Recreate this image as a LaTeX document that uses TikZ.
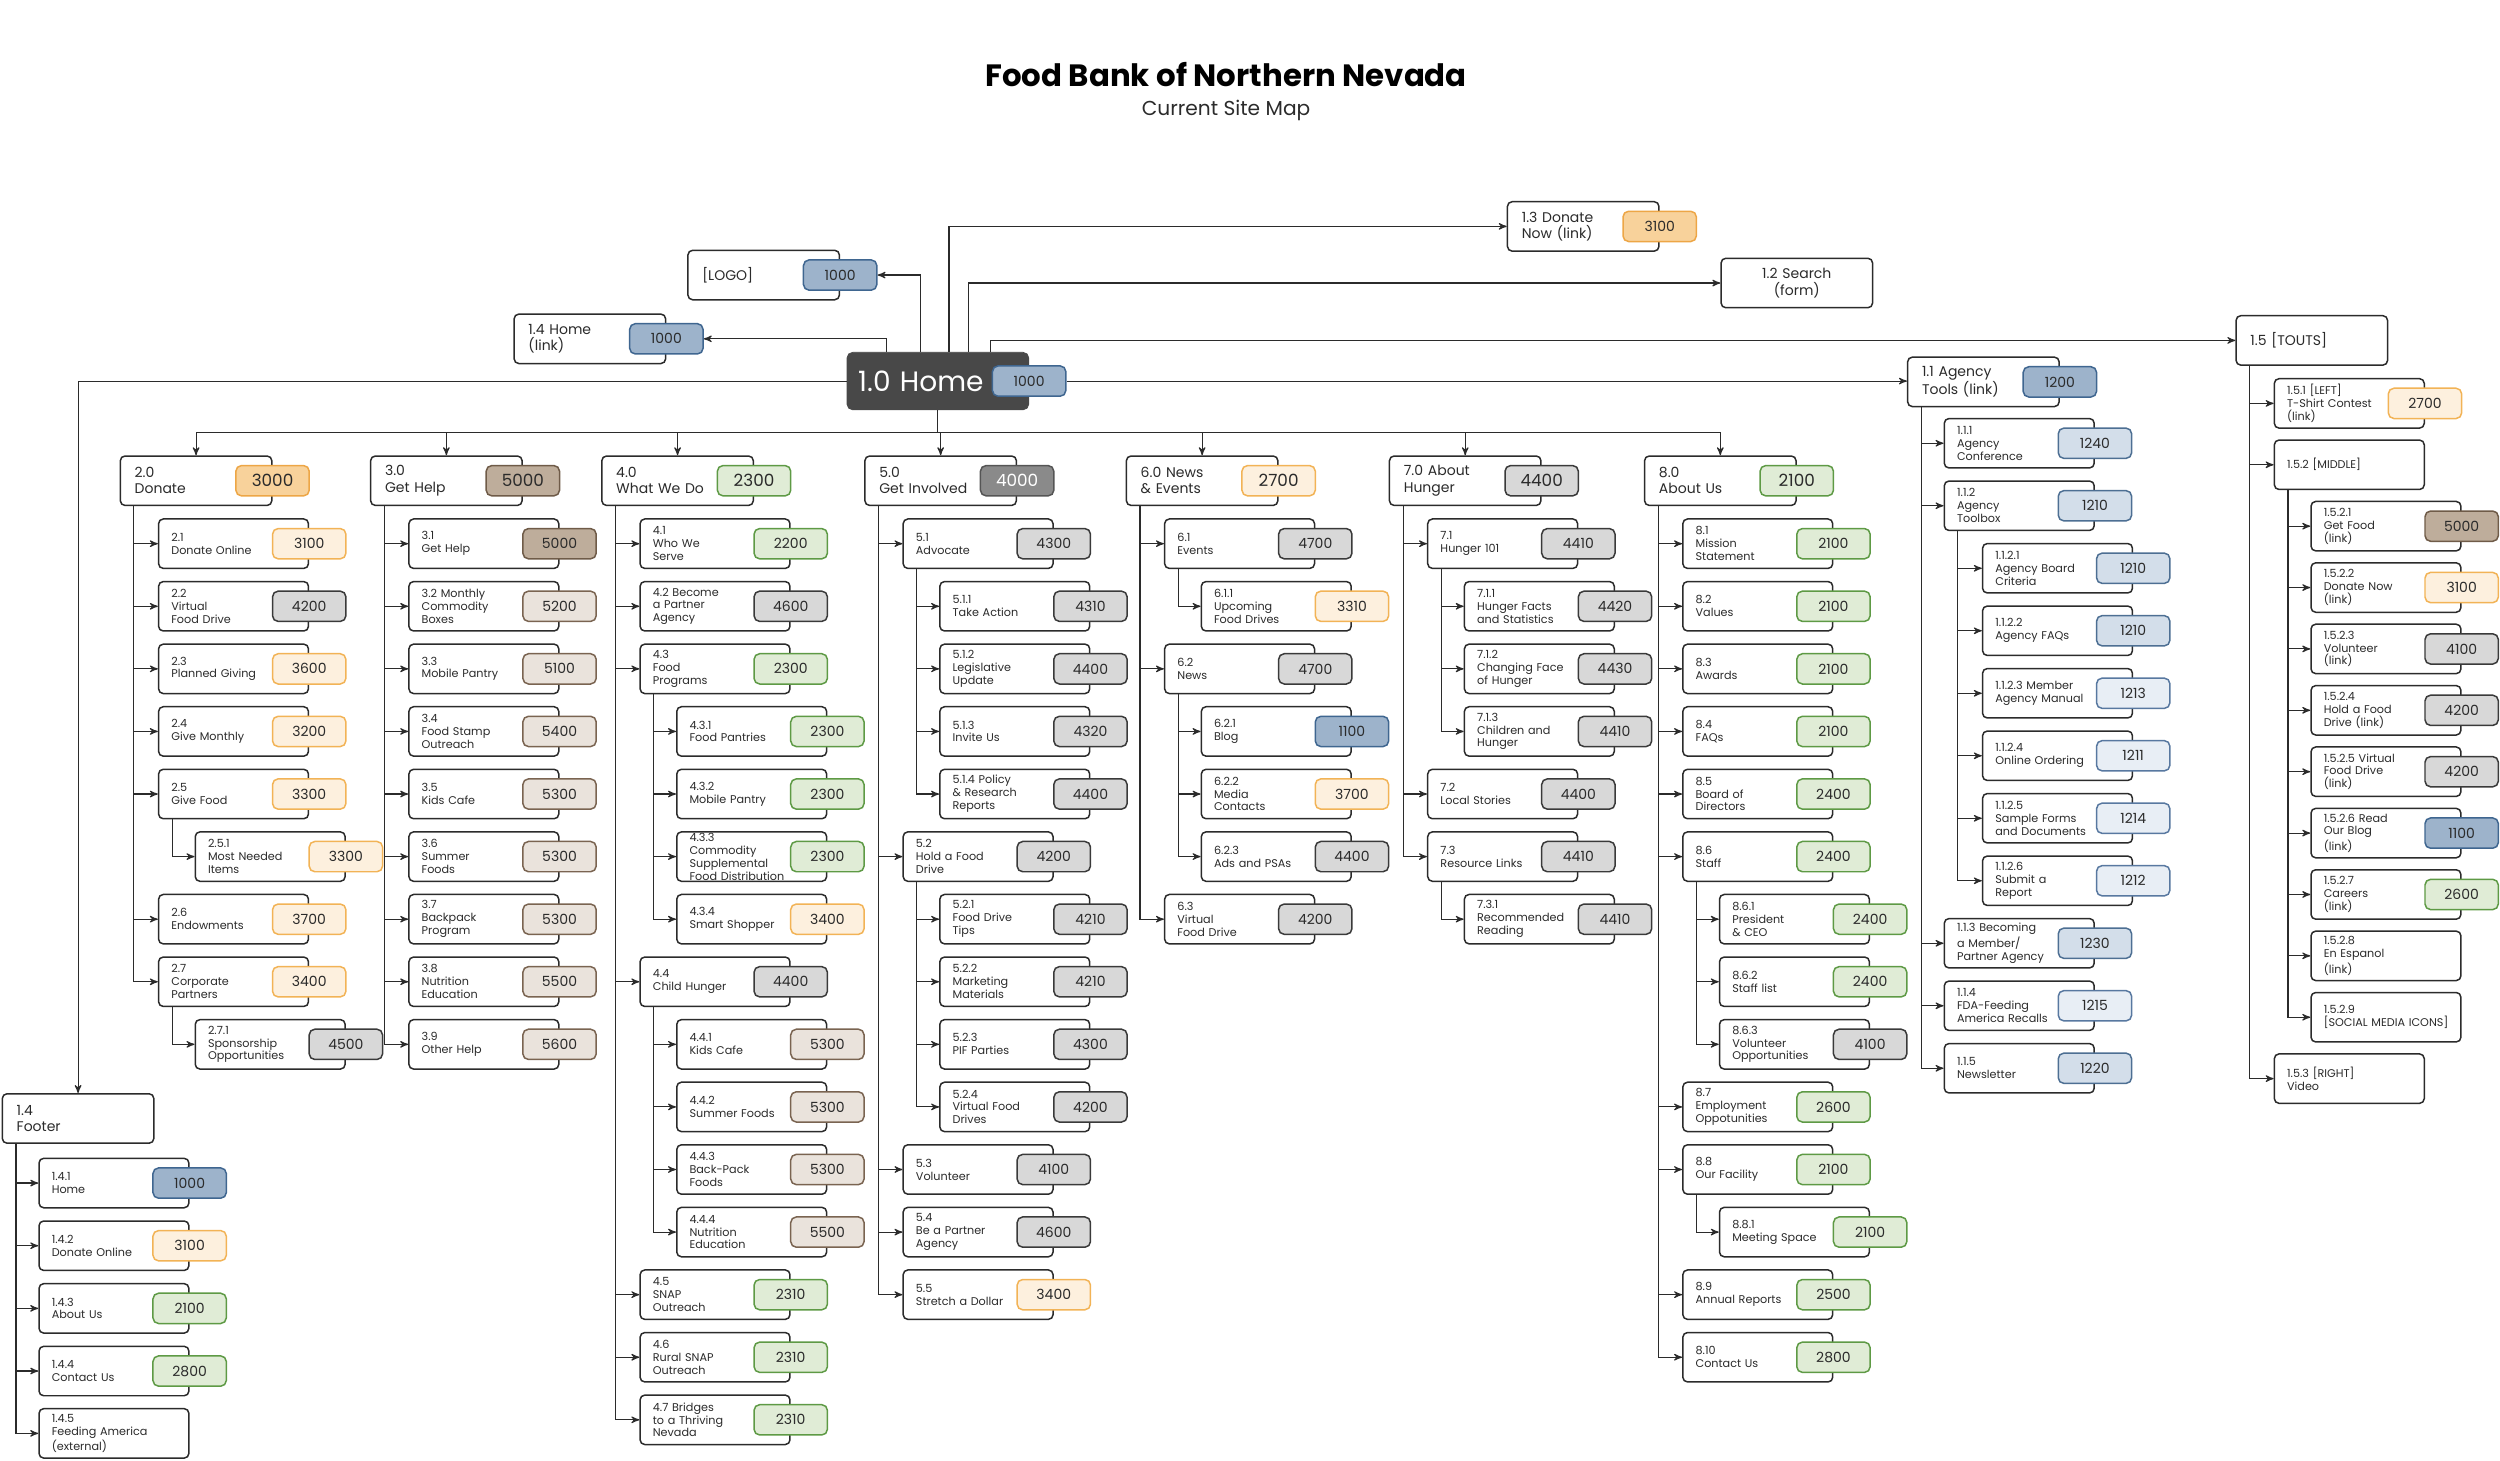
\documentclass[tikz,border=0pt]{standalone}
\usepackage{fontspec}
\setmainfont{Poppins}
\usepackage{tikz}
\usetikzlibrary{arrows}
\usetikzlibrary{calc}

\definecolor{ink}{HTML}{2B2B2B}
\definecolor{homegrey}{HTML}{484848}
\definecolor{bluefill}{HTML}{9DB3CB}\definecolor{blueline}{HTML}{3F6690}
\definecolor{skyfill}{HTML}{D3DEEA}\definecolor{skyline}{HTML}{4D6F93}
\definecolor{icefill}{HTML}{E8EEF5}\definecolor{iceline}{HTML}{5878A0}
\definecolor{amberfill}{HTML}{F8D29B}\definecolor{amberline}{HTML}{EDA646}
\definecolor{peachfill}{HTML}{FDF0DE}\definecolor{peachline}{HTML}{F2B356}
\definecolor{greyfill}{HTML}{D8D8D8}\definecolor{greyline}{HTML}{3A3A3A}
\definecolor{darkfill}{HTML}{8A8A8A}\definecolor{darkline}{HTML}{555555}
\definecolor{brownfill}{HTML}{BEAD9B}\definecolor{brownline}{HTML}{6F5B48}
\definecolor{sandfill}{HTML}{EAE3DC}\definecolor{sandline}{HTML}{7A6451}
\definecolor{greenfill}{HTML}{E0ECD6}\definecolor{greenline}{HTML}{5E9A45}

\begin{document}
\begin{tikzpicture}[
    x=0.03cm, y=-0.03cm,
    link line/.style={->, >=stealth', line width=0.6pt, color=ink},
    pagebox/.style={draw=ink, fill=white, line width=0.8pt, rounded corners=2.5pt,
        anchor=west, minimum height=0.93cm, text width=2.34cm, inner xsep=0.24cm,
        inner ysep=0pt, align=left, text=ink, font=\fontsize{6}{6.9}\selectfont},
    headbox/.style={pagebox, text width=2.31cm, inner xsep=0.27cm,
        font=\fontsize{7.5}{8.7}\selectfont},
    homebox/.style={fill=homegrey, draw=homegrey, rounded corners=3pt, anchor=west,
        minimum height=1.08cm, text width=3.0cm, inner xsep=0.21cm, text=white,
        font=\fontsize{15}{18}\selectfont},
    codetag/.style={draw, rounded corners=3pt, line width=0.8pt, minimum width=1.38cm,
        minimum height=0.57cm, inner sep=0pt, text=ink, font=\fontsize{7.5}{9}\selectfont},
    bigtag/.style={codetag, font=\fontsize{9}{10}\selectfont},
    bluetag/.style={fill=bluefill, draw=blueline},
    skytag/.style={fill=skyfill, draw=skyline},
    icetag/.style={fill=icefill, draw=iceline},
    ambertag/.style={fill=amberfill, draw=amberline},
    peachtag/.style={fill=peachfill, draw=peachline},
    greytag/.style={fill=greyfill, draw=greyline},
    darktag/.style={fill=darkfill, draw=darkline, text=white},
    browntag/.style={fill=brownfill, draw=brownline},
    sandtag/.style={fill=sandfill, draw=sandline},
    greentag/.style={fill=greenfill, draw=greenline},
    ]
    \useasboundingbox (0,0) rectangle (1568,916);

    % title
    \node[font=\bfseries\fontsize{16.5}{20}\selectfont, text=black] (title) at (769,47) {Food Bank of Northern Nevada};
    \node[font=\fontsize{10.8}{13}\selectfont, text=ink] (subtitle) at (769,69) {Current Site Map};

    % home and the pages round it
    \node[homebox] (home) at (531,239) {1.0 Home};
    \node[codetag, bluetag] (home-c) at (home.east) {1000};
    \node[headbox] (logo) at (431,172.5) {[LOGO]};
    \node[codetag, bluetag] (logo-c) at (logo.east) {1000};
    \node[headbox] (hlink) at (322,212.5) {1.4 Home\\(link)};
    \node[codetag, bluetag] (hlink-c) at (hlink.east) {1000};
    \node[headbox] (dnow) at (945,142) {1.3 Donate\\Now (link)};
    \node[codetag, ambertag] (dnow-c) at (dnow.east) {3100};
    \node[headbox, align=center] (srch) at (1079,177.5) {1.2 Search\\(form)};
    \node[headbox] (tts) at (1402,213.5) {1.5 [TOUTS]};
    \node[headbox] (agt) at (1196,239.5) {1.1 Agency\\Tools (link)};
    \node[codetag, bluetag] (agt-c) at (agt.east) {1200};
    \node[headbox] (ftr) at (1,701.5) {1.4\\Footer};

    \draw[link line] ([xshift=-0.33cm]home.north) |- (logo-c.east);
    \draw[link line] ([xshift=-0.96cm]home.north) |- (hlink-c.east);
    \draw[link line] ([xshift=0.21cm]home.north) |- (dnow.west);
    \draw[link line] ([xshift=0.57cm]home.north) |- (srch.west);
    \draw[link line] ([xshift=0.99cm]home.north) |- (tts.west);
    \draw[link line] (home-c.east) -- (home-c.east -| agt.west);
    \draw[link line] (home.west) -| (ftr.north);

    % main sections
    \coordinate (bus) at (588,271);
    \foreach \id/\x/\txt/\num/\tag in {
        don/75/{2.0\\Donate}/3000/ambertag,
        hlp/232/{3.0\\Get Help}/5000/browntag,
        wwd/377/{4.0\\What We Do}/2300/greentag,
        inv/542/{5.0\\Get Involved}/4000/darktag,
        nws/706/{6.0 News\\\& Events}/2700/peachtag,
        hun/871/{7.0 About\\Hunger}/4400/greytag,
        abt/1031/{8.0\\About Us}/2100/greentag}
    {
        \node[headbox] (\id) at (\x,301.5) {\txt};
        \node[bigtag, \tag] (\id-c) at (\id.east) {\num};
        \draw[link line] (home.south) -- (home.south |- bus) -| (\id.north);
    }

    % 2.0 donate
    \foreach \id/\from/\row/\ind/\txt/\num/\tag in {
        d1/don/0/0/{2.1\\Donate Online}/3100/peachtag,
        d2/don/1/0/{2.2\\Virtual\\Food Drive}/4200/greytag,
        d3/don/2/0/{2.3\\Planned Giving}/3600/peachtag,
        d4/don/3/0/{2.4\\Give Monthly}/3200/peachtag,
        d5/don/4/0/{2.5\\Give Food}/3300/peachtag,
        d51/d5/5/1/{2.5.1\\Most Needed\\Items}/3300/peachtag,
        d6/don/6/0/{2.6\\Endowments}/3700/peachtag,
        d7/don/7/0/{2.7\\Corporate\\Partners}/3400/peachtag,
        d71/d7/8/1/{2.7.1\\Sponsorship\\Opportunities}/4500/greytag}
    {
        \node[pagebox] (\id) at ({99+23*\ind},{341+39.25*\row}) {\txt};
        \node[codetag, \tag] (\id-c) at (\id.east) {\num};
        \draw[link line] ([xshift=0.27cm]\from.south west) |- (\id.west);
    }

    % 3.0 get help
    \foreach \id/\from/\row/\ind/\txt/\num/\tag in {
        h1/hlp/0/0/{3.1\\Get Help}/5000/browntag,
        h2/hlp/1/0/{3.2 Monthly\\Commodity\\Boxes}/5200/sandtag,
        h3/hlp/2/0/{3.3\\Mobile Pantry}/5100/sandtag,
        h4/hlp/3/0/{3.4\\Food Stamp\\Outreach}/5400/sandtag,
        h5/hlp/4/0/{3.5\\Kids Cafe}/5300/sandtag,
        h6/hlp/5/0/{3.6\\Summer\\Foods}/5300/sandtag,
        h7/hlp/6/0/{3.7\\Backpack\\Program}/5300/sandtag,
        h8/hlp/7/0/{3.8\\Nutrition\\Education}/5500/sandtag,
        h9/hlp/8/0/{3.9\\Other Help}/5600/sandtag}
    {
        \node[pagebox] (\id) at ({256+23*\ind},{341+39.25*\row}) {\txt};
        \node[codetag, \tag] (\id-c) at (\id.east) {\num};
        \draw[link line] ([xshift=0.27cm]\from.south west) |- (\id.west);
    }

    % 4.0 what we do
    \foreach \id/\from/\row/\ind/\txt/\num/\tag in {
        w1/wwd/0/0/{4.1\\Who We\\Serve}/2200/greentag,
        w2/wwd/1/0/{4.2 Become\\a Partner\\Agency}/4600/greytag,
        w3/wwd/2/0/{4.3\\Food\\Programs}/2300/greentag,
        w31/w3/3/1/{4.3.1\\Food Pantries}/2300/greentag,
        w32/w3/4/1/{4.3.2\\Mobile Pantry}/2300/greentag,
        w33/w3/5/1/{4.3.3\\Commodity\\Supplemental\\Food Distribution}/2300/greentag,
        w34/w3/6/1/{4.3.4\\Smart Shopper}/3400/peachtag,
        w4/wwd/7/0/{4.4\\Child Hunger}/4400/greytag,
        w41/w4/8/1/{4.4.1\\Kids Cafe}/5300/sandtag,
        w42/w4/9/1/{4.4.2\\Summer Foods}/5300/sandtag,
        w43/w4/10/1/{4.4.3\\Back-Pack\\Foods}/5300/sandtag,
        w44/w4/11/1/{4.4.4\\Nutrition\\Education}/5500/sandtag,
        w5/wwd/12/0/{4.5\\SNAP\\Outreach}/2310/greentag,
        w6/wwd/13/0/{4.6\\Rural SNAP\\Outreach}/2310/greentag,
        w7/wwd/14/0/{4.7 Bridges\\to a Thriving\\Nevada}/2310/greentag}
    {
        \node[pagebox] (\id) at ({401+23*\ind},{341+39.25*\row}) {\txt};
        \node[codetag, \tag] (\id-c) at (\id.east) {\num};
        \draw[link line] ([xshift=0.27cm]\from.south west) |- (\id.west);
    }

    % 5.0 get involved
    \foreach \id/\from/\row/\ind/\txt/\num/\tag in {
        i1/inv/0/0/{5.1\\Advocate}/4300/greytag,
        i11/i1/1/1/{5.1.1\\Take Action}/4310/greytag,
        i12/i1/2/1/{5.1.2\\Legislative\\Update}/4400/greytag,
        i13/i1/3/1/{5.1.3\\Invite Us}/4320/greytag,
        i14/i1/4/1/{5.1.4 Policy\\\& Research\\Reports}/4400/greytag,
        i2/inv/5/0/{5.2\\Hold a Food\\Drive}/4200/greytag,
        i21/i2/6/1/{5.2.1\\Food Drive\\Tips}/4210/greytag,
        i22/i2/7/1/{5.2.2\\Marketing\\Materials}/4210/greytag,
        i23/i2/8/1/{5.2.3\\PIF Parties}/4300/greytag,
        i24/i2/9/1/{5.2.4\\Virtual Food\\Drives}/4200/greytag,
        i3/inv/10/0/{5.3\\Volunteer}/4100/greytag,
        i4/inv/11/0/{5.4\\Be a Partner\\Agency}/4600/greytag,
        i5/inv/12/0/{5.5\\Stretch a Dollar}/3400/peachtag}
    {
        \node[pagebox] (\id) at ({566+23*\ind},{341+39.25*\row}) {\txt};
        \node[codetag, \tag] (\id-c) at (\id.east) {\num};
        \draw[link line] ([xshift=0.27cm]\from.south west) |- (\id.west);
    }

    % 6.0 news and events
    \foreach \id/\from/\row/\ind/\txt/\num/\tag in {
        n1/nws/0/0/{6.1\\Events}/4700/greytag,
        n11/n1/1/1/{6.1.1\\Upcoming\\Food Drives}/3310/peachtag,
        n2/nws/2/0/{6.2\\News}/4700/greytag,
        n21/n2/3/1/{6.2.1\\Blog}/1100/bluetag,
        n22/n2/4/1/{6.2.2\\Media\\Contacts}/3700/peachtag,
        n23/n2/5/1/{6.2.3\\Ads and PSAs}/4400/greytag,
        n3/nws/6/0/{6.3\\Virtual\\Food Drive}/4200/greytag}
    {
        \node[pagebox] (\id) at ({730+23*\ind},{341+39.25*\row}) {\txt};
        \node[codetag, \tag] (\id-c) at (\id.east) {\num};
        \draw[link line] ([xshift=0.27cm]\from.south west) |- (\id.west);
    }

    % 7.0 about hunger
    \foreach \id/\from/\row/\ind/\txt/\num/\tag in {
        a1/hun/0/0/{7.1\\Hunger 101}/4410/greytag,
        a11/a1/1/1/{7.1.1\\Hunger Facts\\and Statistics}/4420/greytag,
        a12/a1/2/1/{7.1.2\\Changing Face\\of Hunger}/4430/greytag,
        a13/a1/3/1/{7.1.3\\Children and\\Hunger}/4410/greytag,
        a2/hun/4/0/{7.2\\Local Stories}/4400/greytag,
        a3/hun/5/0/{7.3\\Resource Links}/4410/greytag,
        a31/a3/6/1/{7.3.1\\Recommended\\Reading}/4410/greytag}
    {
        \node[pagebox] (\id) at ({895+23*\ind},{341+39.25*\row}) {\txt};
        \node[codetag, \tag] (\id-c) at (\id.east) {\num};
        \draw[link line] ([xshift=0.27cm]\from.south west) |- (\id.west);
    }

    % 8.0 about us
    \foreach \id/\from/\row/\ind/\txt/\num/\tag in {
        u1/abt/0/0/{8.1\\Mission\\Statement}/2100/greentag,
        u2/abt/1/0/{8.2\\Values}/2100/greentag,
        u3/abt/2/0/{8.3\\Awards}/2100/greentag,
        u4/abt/3/0/{8.4\\FAQs}/2100/greentag,
        u5/abt/4/0/{8.5\\Board of\\Directors}/2400/greentag,
        u6/abt/5/0/{8.6\\Staff}/2400/greentag,
        u61/u6/6/1/{8.6.1\\President\\\& CEO}/2400/greentag,
        u62/u6/7/1/{8.6.2\\Staff list}/2400/greentag,
        u63/u6/8/1/{8.6.3\\Volunteer\\Opportunities}/4100/greytag,
        u7/abt/9/0/{8.7\\Employment\\Oppotunities}/2600/greentag,
        u8/abt/10/0/{8.8\\Our Facility}/2100/greentag,
        u81/u8/11/1/{8.8.1\\Meeting Space}/2100/greentag,
        u9/abt/12/0/{8.9\\Annual Reports}/2500/greentag,
        u10/abt/13/0/{8.10\\Contact Us}/2800/greentag}
    {
        \node[pagebox] (\id) at ({1055+23*\ind},{341+39.25*\row}) {\txt};
        \node[codetag, \tag] (\id-c) at (\id.east) {\num};
        \draw[link line] ([xshift=0.27cm]\from.south west) |- (\id.west);
    }

    % 1.1 agency tools
    \foreach \id/\from/\row/\ind/\txt/\num/\tag in {
        t1/agt/0/0/{1.1.1\\Agency\\Conference}/1240/skytag,
        t2/agt/1/0/{1.1.2\\Agency\\Toolbox}/1210/skytag,
        t21/t2/2/1/{1.1.2.1\\Agency Board\\Criteria}/1210/skytag,
        t22/t2/3/1/{1.1.2.2\\Agency FAQs}/1210/skytag,
        t23/t2/4/1/{1.1.2.3 Member\\Agency Manual}/1213/icetag,
        t24/t2/5/1/{1.1.2.4\\Online Ordering}/1211/icetag,
        t25/t2/6/1/{1.1.2.5\\Sample Forms\\and Documents}/1214/icetag,
        t26/t2/7/1/{1.1.2.6\\Submit a\\Report}/1212/icetag,
        t3/agt/8/0/{1.1.3 Becoming\\a Member/\\Partner Agency}/1230/skytag,
        t4/agt/9/0/{1.1.4\\FDA-Feeding\\America Recalls}/1215/icetag,
        t5/agt/10/0/{1.1.5\\Newsletter}/1220/skytag}
    {
        \node[pagebox] (\id) at ({1219+24*\ind},{278+39.2*\row}) {\txt};
        \node[codetag, \tag] (\id-c) at (\id.east) {\num};
        \draw[link line] ([xshift=0.27cm]\from.south west) |- (\id.west);
    }

    % 1.5 touts, pages without a code first
    \foreach \id/\from/\row/\ind/\txt in {
        s2/tts/1/0/{1.5.2 [MIDDLE]},
        s28/s2/9/1/{1.5.2.8\\En Espanol\\(link)},
        s29/s2/10/1/{1.5.2.9\\\mbox{[SOCIAL MEDIA ICONS]}},
        s3/tts/11/0/{1.5.3 [RIGHT]\\Video}}
    {
        \node[pagebox] (\id) at ({1426+23*\ind},{253+38.5*\row}) {\txt};
        \draw[link line] ([xshift=0.27cm]\from.south west) |- (\id.west);
    }
    \foreach \id/\from/\row/\ind/\txt/\num/\tag in {
        s1/tts/0/0/{1.5.1 [LEFT]\\T-Shirt Contest\\(link)}/2700/peachtag,
        s21/s2/2/1/{1.5.2.1\\Get Food\\(link)}/5000/browntag,
        s22/s2/3/1/{1.5.2.2\\Donate Now\\(link)}/3100/peachtag,
        s23/s2/4/1/{1.5.2.3\\Volunteer\\(link)}/4100/greytag,
        s24/s2/5/1/{1.5.2.4\\Hold a Food\\Drive (link)}/4200/greytag,
        s25/s2/6/1/{1.5.2.5 Virtual\\Food Drive\\(link)}/4200/greytag,
        s26/s2/7/1/{1.5.2.6 Read\\Our Blog\\(link)}/1100/bluetag,
        s27/s2/8/1/{1.5.2.7\\Careers\\(link)}/2600/greentag}
    {
        \node[pagebox] (\id) at ({1426+23*\ind},{253+38.5*\row}) {\txt};
        \node[codetag, \tag] (\id-c) at (\id.east) {\num};
        \draw[link line] ([xshift=0.27cm]\from.south west) |- (\id.west);
    }

    % 1.4 footer
    \foreach \id/\from/\row/\ind/\txt/\num/\tag in {
        f1/ftr/0/0/{1.4.1\\Home}/1000/bluetag,
        f2/ftr/1/0/{1.4.2\\Donate Online}/3100/peachtag,
        f3/ftr/2/0/{1.4.3\\About Us}/2100/greentag,
        f4/ftr/3/0/{1.4.4\\Contact Us}/2800/greentag}
    {
        \node[pagebox] (\id) at ({24+23*\ind},{742+39.3*\row}) {\txt};
        \node[codetag, \tag] (\id-c) at (\id.east) {\num};
        \draw[link line] ([xshift=0.27cm]\from.south west) |- (\id.west);
    }
    \node[pagebox] (f5) at (24,899) {1.4.5\\Feeding America\\(external)};
    \draw[link line] ([xshift=0.27cm]ftr.south west) |- (f5.west);
\end{tikzpicture}
\end{document}
